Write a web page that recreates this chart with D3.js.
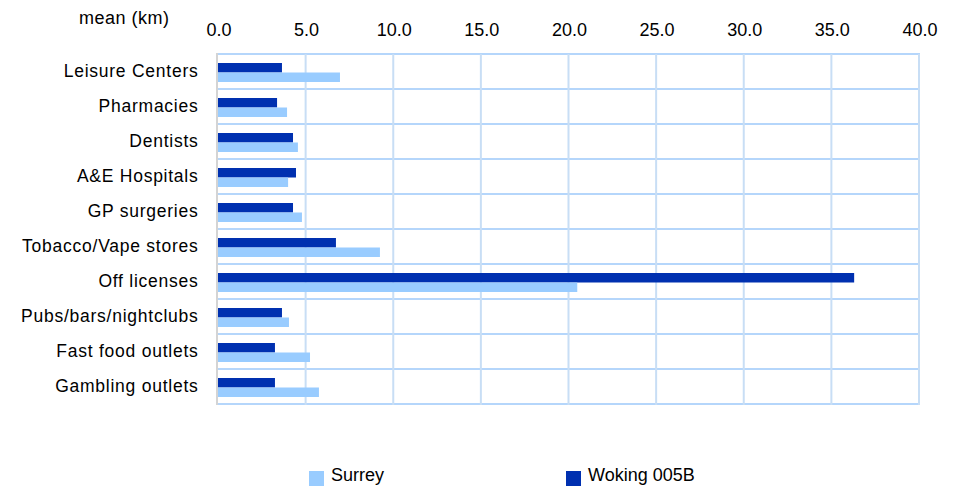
<!DOCTYPE html>
<html><head><meta charset="utf-8">
<script src="https://cdn.jsdelivr.net/npm/d3@7/dist/d3.min.js"></script>
<style>body{margin:0;background:#fff;}text{font-family:"Liberation Sans",Arial,sans-serif;}</style>
</head><body><svg id="c" width="957" height="486"></svg>
<script>
const categories = ["Leisure Centers","Pharmacies","Dentists","A&E Hospitals","GP surgeries","Tobacco/Vape stores","Off licenses","Pubs/bars/nightclubs","Fast food outlets","Gambling outlets"];
const woking = [3.65,3.37,4.28,4.45,4.28,6.73,36.3,3.65,3.25,3.25];
const surrey = [6.96,3.94,4.56,4.0,4.79,9.24,20.5,4.05,5.25,5.76];
const ticks = [0,5,10,15,20,25,30,35,40];
const seriesNames = ["Surrey","Woking 005B"];
const colors = {"Surrey":"#99ccff","Woking 005B":"#0030b0"};

const svg = d3.select("#c");
const x = d3.scaleLinear().domain([0,40]).range([218,919]);
const y = d3.scaleBand().domain(categories).range([54,404]);
const g = svg.append("g");

const hl = [54].concat(categories.map(c=>y(c)+y.bandwidth()));
g.selectAll("line.h").data(hl).enter().append("line")
  .attr("x1",218).attr("x2",920).attr("y1",d=>d).attr("y2",d=>d)
  .attr("stroke","#b5d6fb").attr("stroke-width",2);
g.selectAll("line.v").data(ticks.slice(1)).enter().append("line")
  .attr("x1",d=>x(d)).attr("x2",d=>x(d)).attr("y1",54).attr("y2",405)
  .attr("stroke","#c8def5").attr("stroke-width",2);
g.append("line").attr("x1",217).attr("x2",217).attr("y1",53).attr("y2",405)
  .attr("stroke","#d4d4d4").attr("stroke-width",2);

const bh = 9.5;
g.selectAll("rect.w").data(categories).enter().append("rect")
  .attr("x",x(0)).attr("y",d=>y(d)+y.bandwidth()/2-bh+1)
  .attr("width",(d,i)=>x(woking[i])-x(0)).attr("height",bh)
  .attr("fill",colors["Woking 005B"]);
g.selectAll("rect.s").data(categories).enter().append("rect")
  .attr("x",x(0)).attr("y",d=>y(d)+y.bandwidth()/2+1)
  .attr("width",(d,i)=>x(surrey[i])-x(0)).attr("height",bh)
  .attr("fill",colors["Surrey"]);

g.selectAll("text.cat").data(categories).enter().append("text")
  .attr("x",198.5).attr("y",d=>y(d)+y.bandwidth()/2+5.5)
  .attr("text-anchor","end").attr("font-size",17.5).attr("letter-spacing",0.75)
  .attr("fill","#000").text(d=>d);

g.selectAll("text.t").data(ticks).enter().append("text")
  .attr("x",d=>x(d)+1).attr("y",35.5).attr("text-anchor","middle")
  .attr("font-size",18).attr("fill","#000").text(d=>d3.format(".1f")(d));

svg.append("text").attr("x",79).attr("y",24).attr("font-size",18).attr("letter-spacing",0.5).text("mean (km)");

const lx = [309,566];
seriesNames.forEach((s,i)=>{
  svg.append("rect").attr("x",lx[i]).attr("y",471).attr("width",15).attr("height",15).attr("fill",colors[s]);
  svg.append("text").attr("x",lx[i]+22).attr("y",481).attr("font-size",18).text(s);
});
</script></body></html>
